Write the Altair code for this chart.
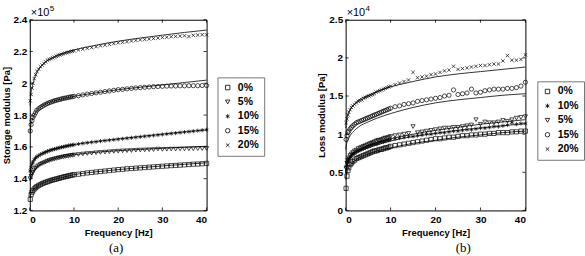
import altair as alt
import pandas as pd

FONT = "Liberation Sans"

# ---------------- data ----------------
freq = [0.1, 0.3, 0.5, 0.7, 1.0, 1.3, 1.6, 2.0, 2.4, 2.8, 3.2, 3.6, 4.0, 4.4, 4.8, 5.2, 5.6, 6.0,
        6.4, 6.8, 7.2, 7.6, 8.0, 8.4, 8.8, 9.2, 9.6, 10,
        11, 12, 13, 14, 15, 16, 17, 18, 19, 20, 21, 22, 23, 24, 25, 26, 27, 28, 29, 30,
        31, 32, 33, 34, 35, 36, 37, 38, 39, 40]
fit_freq = [0.05, 0.2, 0.5, 1, 2, 3, 5, 7, 10, 15, 20, 25, 30, 35, 40]

# Storage modulus (x 1e5 Pa)
st_0 = [1.27, 1.30, 1.315, 1.325, 1.335, 1.343, 1.35, 1.357, 1.363, 1.368, 1.373, 1.377, 1.381, 1.385,
        1.389, 1.392, 1.395, 1.398, 1.401, 1.404, 1.407, 1.41, 1.413, 1.415, 1.418, 1.42, 1.423, 1.425,
        1.428, 1.432, 1.436, 1.439, 1.442, 1.445, 1.448, 1.451, 1.454, 1.457, 1.459, 1.462, 1.464, 1.466,
        1.468, 1.47, 1.472, 1.474, 1.476, 1.478, 1.48, 1.482, 1.483, 1.485, 1.487, 1.489, 1.491, 1.492,
        1.494, 1.496]
st_5 = [1.40, 1.415, 1.43, 1.44, 1.455, 1.465, 1.475, 1.482, 1.49, 1.495, 1.50, 1.505, 1.51, 1.514,
        1.518, 1.521, 1.524, 1.527, 1.53, 1.532, 1.535, 1.537, 1.539, 1.541, 1.543, 1.545, 1.547, 1.549,
        1.552, 1.555, 1.558, 1.56, 1.563, 1.565, 1.567, 1.569, 1.571, 1.573, 1.575, 1.576, 1.577, 1.579,
        1.58, 1.581, 1.582, 1.583, 1.586, 1.584, 1.585, 1.586, 1.586, 1.587, 1.587, 1.588, 1.588, 1.589,
        1.589, 1.59]
st_10 = [1.45, 1.47, 1.49, 1.505, 1.52, 1.53, 1.538, 1.545, 1.552, 1.557, 1.562, 1.567, 1.572, 1.576,
         1.58, 1.583, 1.586, 1.589, 1.592, 1.595, 1.598, 1.60, 1.603, 1.605, 1.608, 1.61, 1.612, 1.614,
         1.618, 1.622, 1.626, 1.629, 1.632, 1.636, 1.639, 1.642, 1.645, 1.648, 1.651, 1.654, 1.657, 1.66,
         1.663, 1.666, 1.669, 1.672, 1.675, 1.678, 1.681, 1.684, 1.687, 1.69, 1.693, 1.696, 1.699, 1.702,
         1.705, 1.708]
st_15 = [1.70, 1.74, 1.765, 1.785, 1.80, 1.815, 1.83, 1.84, 1.848, 1.855, 1.862, 1.868, 1.873, 1.878,
         1.882, 1.886, 1.89, 1.893, 1.896, 1.899, 1.902, 1.905, 1.907, 1.909, 1.912, 1.914, 1.916, 1.918,
         1.922, 1.927, 1.932, 1.936, 1.94, 1.944, 1.948, 1.952, 1.956, 1.96, 1.962, 1.965, 1.968, 1.971,
         1.973, 1.975, 1.977, 1.979, 1.98, 1.981, 1.982, 1.983, 1.983, 1.984, 1.984, 1.985, 1.985, 1.985,
         1.986, 1.986]
st_20 = [1.89, 1.93, 1.97, 2.00, 2.03, 2.055, 2.075, 2.09, 2.105, 2.115, 2.125, 2.135, 2.145, 2.15,
         2.155, 2.16, 2.165, 2.17, 2.175, 2.178, 2.182, 2.186, 2.19, 2.193, 2.196, 2.199, 2.202, 2.205,
         2.21, 2.215, 2.22, 2.225, 2.23, 2.236, 2.24, 2.245, 2.25, 2.255, 2.258, 2.262, 2.266, 2.27,
         2.273, 2.276, 2.279, 2.282, 2.285, 2.288, 2.29, 2.293, 2.295, 2.297, 2.299, 2.295, 2.302, 2.304,
         2.306, 2.305]
st_fit_0 = [1.28, 1.30, 1.318, 1.335, 1.358, 1.372, 1.392, 1.405, 1.425, 1.443, 1.457, 1.469, 1.48, 1.49, 1.50]
st_fit_5 = [1.39, 1.41, 1.43, 1.455, 1.482, 1.498, 1.52, 1.535, 1.55, 1.566, 1.576, 1.584, 1.591, 1.598, 1.604]
st_fit_10 = [1.44, 1.465, 1.49, 1.518, 1.545, 1.562, 1.583, 1.598, 1.614, 1.634, 1.65, 1.665, 1.68, 1.694, 1.707]
st_fit_15 = [1.69, 1.73, 1.765, 1.80, 1.84, 1.86, 1.885, 1.90, 1.918, 1.94, 1.96, 1.975, 1.99, 2.005, 2.02]
st_fit_20 = [1.86, 1.92, 1.97, 2.025, 2.085, 2.12, 2.16, 2.185, 2.21, 2.24, 2.265, 2.285, 2.303, 2.32, 2.335]

# Loss modulus (x 1e4 Pa)
ls_0 = [0.29, 0.45, 0.52, 0.56, 0.60, 0.62, 0.64, 0.66, 0.68, 0.69, 0.70, 0.71, 0.72, 0.73, 0.74, 0.75,
        0.76, 0.77, 0.78, 0.78, 0.79, 0.80, 0.80, 0.81, 0.82, 0.82, 0.83, 0.84,
        0.85, 0.86, 0.87, 0.88, 0.89, 0.90, 0.91, 0.92, 0.93, 0.94, 0.94, 0.95, 0.96, 0.96, 0.97, 0.98,
        0.98, 0.99, 0.99, 1.00, 1.00, 1.01, 1.01, 1.02, 1.02, 1.02, 1.03, 1.03, 1.04, 1.04]
ls_5 = [0.55, 0.62, 0.66, 0.69, 0.72, 0.74, 0.76, 0.78, 0.79, 0.81, 0.82, 0.83, 0.84, 0.85, 0.86, 0.87,
        0.88, 0.89, 0.90, 0.91, 0.92, 0.92, 0.93, 0.94, 0.95, 0.95, 0.96, 0.97,
        0.98, 0.99, 1.00, 1.01, 1.10, 1.02, 1.03, 1.04, 1.05, 1.06, 1.07, 1.08, 1.08, 1.09, 1.09, 1.10,
        1.11, 1.12, 1.19, 1.13, 1.16, 1.15, 1.15, 1.16, 1.18, 1.17, 1.19, 1.21, 1.22, 1.23]
ls_10 = [0.58, 0.63, 0.66, 0.68, 0.70, 0.72, 0.74, 0.75, 0.77, 0.78, 0.79, 0.80, 0.81, 0.82, 0.83, 0.84,
         0.85, 0.86, 0.87, 0.87, 0.88, 0.89, 0.90, 0.90, 0.91, 0.92, 0.92, 0.93,
         0.94, 0.95, 0.96, 0.97, 0.97, 0.98, 0.99, 1.00, 1.00, 1.01, 1.02, 1.02, 1.03, 1.04, 1.04, 1.05,
         1.06, 1.06, 1.07, 1.08, 1.08, 1.09, 1.10, 1.10, 1.11, 1.12, 1.15, 1.13, 1.14, 1.14]
ls_15 = [0.93, 0.98, 1.02, 1.04, 1.07, 1.09, 1.11, 1.13, 1.15, 1.16, 1.17, 1.18, 1.19, 1.20, 1.21, 1.22,
         1.23, 1.24, 1.25, 1.26, 1.27, 1.28, 1.29, 1.30, 1.31, 1.32, 1.33, 1.34,
         1.36, 1.37, 1.39, 1.40, 1.41, 1.43, 1.44, 1.45, 1.46, 1.47, 1.48, 1.50, 1.51, 1.58, 1.52, 1.53,
         1.54, 1.59, 1.54, 1.55, 1.57, 1.58, 1.59, 1.59, 1.59, 1.60, 1.60, 1.61, 1.63, 1.68]
ls_20 = [1.15, 1.20, 1.25, 1.29, 1.32, 1.35, 1.37, 1.39, 1.41, 1.43, 1.44, 1.45, 1.47, 1.48, 1.49, 1.50,
         1.51, 1.52, 1.53, 1.55, 1.56, 1.57, 1.58, 1.59, 1.60, 1.61, 1.62, 1.63,
         1.65, 1.67, 1.69, 1.71, 1.81, 1.74, 1.75, 1.76, 1.78, 1.79, 1.81, 1.83, 1.84, 1.89, 1.85, 1.86,
         1.87, 1.88, 1.89, 1.90, 1.90, 1.91, 1.92, 1.92, 1.96, 2.03, 1.97, 1.97, 1.98, 2.04]
ls_fit_0 = [0.40, 0.48, 0.54, 0.59, 0.65, 0.69, 0.74, 0.78, 0.82, 0.88, 0.92, 0.96, 0.99, 1.02, 1.04]
ls_fit_5 = [0.50, 0.58, 0.64, 0.69, 0.75, 0.79, 0.85, 0.89, 0.94, 1.00, 1.05, 1.09, 1.13, 1.16, 1.19]
ls_fit_10 = [0.48, 0.56, 0.62, 0.67, 0.73, 0.77, 0.82, 0.86, 0.91, 0.97, 1.01, 1.05, 1.08, 1.11, 1.14]
ls_fit_15 = [0.80, 0.87, 0.92, 0.98, 1.05, 1.10, 1.16, 1.21, 1.27, 1.35, 1.41, 1.45, 1.48, 1.51, 1.53]
ls_fit_20 = [1.08, 1.17, 1.25, 1.32, 1.40, 1.45, 1.51, 1.56, 1.62, 1.69, 1.75, 1.79, 1.82, 1.85, 1.88]

names = ["0%", "5%", "10%", "15%", "20%"]
x_ticks = [0, 10, 20, 30, 40]
st_ticks = [1.2, 1.4, 1.6, 1.8, 2.0, 2.2, 2.4]
ls_ticks = [0, 0.5, 1.0, 1.5, 2.0, 2.5]

STAR = "M0,-1L0,1M-0.87,-0.5L0.87,0.5M-0.87,0.5L0.87,-0.5"
XMARK = "M-0.8,-0.8L0.8,0.8M-0.8,0.8L0.8,-0.8"
shape_of = {"0%": "square", "5%": "triangle-down", "10%": STAR, "15%": "circle", "20%": XMARK}


def long(xs, series):
    rows = []
    for name, vals in zip(names, series):
        for f, v in zip(xs, vals):
            rows.append({"f": f, "v": v, "s": name})
    return pd.DataFrame(rows)


def panel(pts, fits, order, ydom, yticks, ytitle, expo, caption, cap_dx, leg_xy, W, H):
    xs = alt.Scale(domain=[0, 40], nice=False)
    ys = alt.Scale(domain=ydom, nice=False, zero=False)
    xax = alt.Axis(values=x_ticks, title="Frequency [Hz]", ticks=False, domain=False, grid=False,
                   labelPadding=4, titlePadding=3, labelFont=FONT, labelFontWeight="bold",
                   labelFontSize=10, titleFont=FONT, titleFontWeight="bold", titleFontSize=9.5,
                   labelColor="black", titleColor="black")
    yax = alt.Axis(values=yticks, format="~g", title=ytitle, ticks=False, domain=False, grid=False,
                   labelPadding=3, titlePadding=2, labelFont=FONT, labelFontWeight="bold",
                   labelFontSize=10, titleFont=FONT, titleFontWeight="bold", titleFontSize=9.5,
                   labelColor="black", titleColor="black")
    X = alt.X("f:Q", scale=xs, axis=xax)
    Y = alt.Y("v:Q", scale=ys, axis=yax)
    sh = alt.Scale(domain=order, range=[shape_of[s] for s in order])
    leg = alt.Legend(orient="none", legendX=leg_xy[0], legendY=leg_xy[1], title=None,
                     strokeColor="#777", fillColor="white", padding=5, rowPadding=3.5,
                     symbolSize=20, symbolStrokeWidth=0.8, symbolStrokeColor="black",
                     labelFont=FONT, labelFontSize=10.5, labelFontWeight="bold", labelOffset=5,
                     labelColor="black")
    points = alt.Chart(long(freq, pts)).mark_point(filled=False, color="black", size=18,
                                                   strokeWidth=0.7, opacity=1).encode(
        x=X, y=Y, shape=alt.Shape("s:N", scale=sh, legend=leg))
    lines = alt.Chart(long(fit_freq, fits)).mark_line(color="black", strokeWidth=0.8,
                                                      interpolate="monotone").encode(
        x=X, y=Y, detail="s:N")
    xt = pd.DataFrame({"f": x_ticks})
    yt = pd.DataFrame({"v": yticks})
    tick_top = alt.Chart(xt).mark_rule(color="black", strokeWidth=0.8).encode(
        x=X, y=alt.value(0), y2=alt.value(3))
    tick_bot = alt.Chart(xt).mark_rule(color="black", strokeWidth=0.8).encode(
        x=X, y=alt.value(H - 3), y2=alt.value(H))
    tick_l = alt.Chart(yt).mark_rule(color="black", strokeWidth=0.8).encode(
        y=Y, x=alt.value(0), x2=alt.value(3))
    tick_r = alt.Chart(yt).mark_rule(color="black", strokeWidth=0.8).encode(
        y=Y, x=alt.value(W - 3), x2=alt.value(W))
    ann = pd.DataFrame({"t": ["x"]})
    e1 = alt.Chart(ann).mark_text(text="×10", align="left", baseline="alphabetic", font=FONT,
                                  fontSize=11, color="black").encode(x=alt.value(1), y=alt.value(-4))
    e2 = alt.Chart(ann).mark_text(text=expo, align="left", baseline="alphabetic", font=FONT,
                                  fontSize=8, color="black").encode(x=alt.value(20), y=alt.value(-9))
    cap = alt.Chart(ann).mark_text(text=caption, align="center", baseline="middle",
                                   font="Liberation Serif", fontSize=13, color="black").encode(
        x=alt.value(W / 2 + cap_dx), y=alt.value(H + 38))
    return alt.layer(lines, points, tick_top, tick_bot, tick_l, tick_r, e1, e2, cap).properties(
        width=W, height=H)


left = panel([st_0, st_5, st_10, st_15, st_20],
             [st_fit_0, st_fit_5, st_fit_10, st_fit_15, st_fit_20],
             ["0%", "5%", "10%", "15%", "20%"], [1.2, 2.4], st_ticks,
             "Storage modulus [Pa]", "5", "(a)", -2, (189, 58), 178, 192)
right = panel([ls_0, ls_5, ls_10, ls_15, ls_20],
              [ls_fit_0, ls_fit_5, ls_fit_10, ls_fit_15, ls_fit_20],
              ["0%", "10%", "5%", "15%", "20%"], [0, 2.5], ls_ticks,
              "Loss modulus [Pa]", "4", "(b)", 28, (193, 62), 181, 192)

chart = alt.hconcat(left, right, spacing=140, bounds="flush").resolve_scale(
    shape="independent").resolve_legend(shape="independent").properties(
    padding={"left": 0, "top": 3, "right": 0, "bottom": 0}, background="white"
).configure_view(stroke="black", strokeWidth=1)

chart.save("out.html", embed_options={"renderer": "svg", "actions": False})
